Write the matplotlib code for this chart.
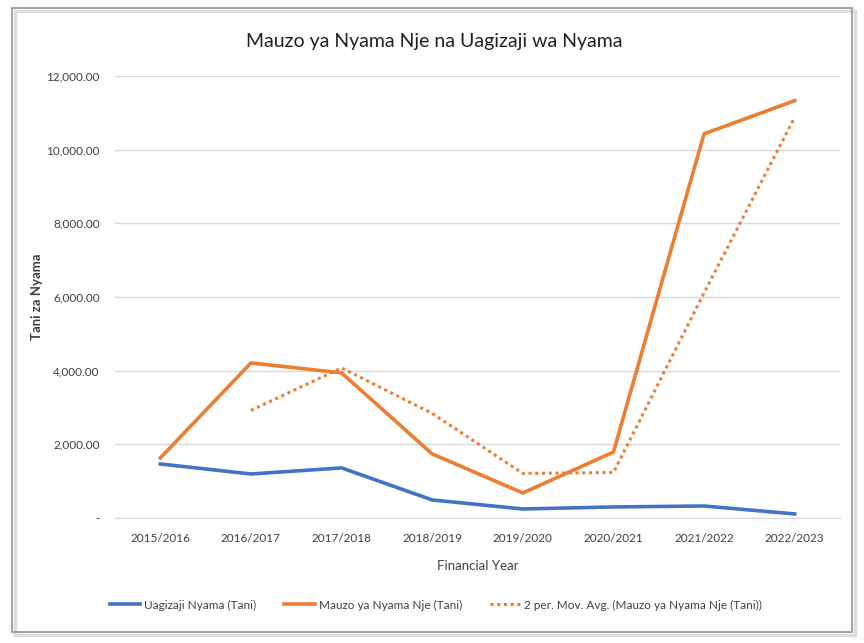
import matplotlib
matplotlib.use("Agg")
import matplotlib.pyplot as plt
from matplotlib.ticker import FuncFormatter, MultipleLocator
from matplotlib.patches import Rectangle
import pandas as pd

years = ["2015/2016", "2016/2017", "2017/2018", "2018/2019",
         "2019/2020", "2020/2021", "2021/2022", "2022/2023"]
uagizaji = [1467, 1195, 1360, 490, 245, 300, 326, 110]
mauzo = [1630, 4210, 3940, 1740, 680, 1790, 10430, 11330]

mov_avg = pd.Series(mauzo).rolling(2).mean()

plt.rcParams['font.family'] = ['Lato', 'DejaVu Sans']

fig = plt.figure(figsize=(8.64, 6.43), dpi=100)
W, H = 864, 643
ax = fig.add_axes([115 / W, 1 - 518 / H, (840 - 115) / W, (518 - 76) / H])

x = list(range(len(years)))
blue = "#4472C4"
orange = "#ED7D31"
ax.plot(x, uagizaji, color=blue, lw=2.6, label="Uagizaji Nyama (Tani)", solid_joinstyle='round')
ax.plot(x, mauzo, color=orange, lw=2.6, label="Mauzo ya Nyama Nje (Tani)", solid_joinstyle='round')
ax.plot(x, mov_avg, color=orange, lw=2.2, ls=(0, (1, 1.2)),
        label="2 per. Mov. Avg. (Mauzo ya Nyama Nje (Tani))")

ax.set_xlim(-0.5, len(years) - 0.5)
ax.set_ylim(0, 12000)
ax.yaxis.set_major_locator(MultipleLocator(2000))


def fmt(v, pos):
    if abs(v) < 1e-9:
        return "-"
    return f"{v:,.2f}"


ax.yaxis.set_major_formatter(FuncFormatter(fmt))
ax.set_xticks(x)
ax.set_xticklabels(years)
ax.tick_params(axis='both', length=0, labelsize=8.5, colors="#404040")
ax.tick_params(axis='y', pad=11)
ax.tick_params(axis='x', pad=11)
ax.grid(axis='y', color="#D9D9D9", lw=1)
ax.set_axisbelow(True)
for s in ["top", "right", "left"]:
    ax.spines[s].set_visible(False)
ax.spines["bottom"].set_color("#D9D9D9")

ax.set_xlabel("Financial Year", fontsize=9.5, color="#404040")
ax.xaxis.set_label_coords(0.5, -(560 - 518) / 442)
ax.set_ylabel("Tani za Nyama", fontsize=9.5, color="#404040", fontweight='bold')
ax.yaxis.set_label_coords(-(115 - 43) / 725, 0.5)

fig.text(434 / W, 1 - 42 / H, "Mauzo ya Nyama Nje na Uagizaji wa Nyama",
         ha="center", va="center", fontsize=14, color="#202020")

fig.legend(loc="center", bbox_to_anchor=(436 / W, 1 - 605 / H), ncol=3,
           frameon=False, fontsize=8.5, handlelength=2.6, columnspacing=2.4,
           handletextpad=0.3, labelcolor="#404040")

# frame with subtle shadow
fig.patches.append(Rectangle((15 / W, 1 - 635 / H), (852 - 12) / W, (632 - 8) / H,
                             transform=fig.transFigure, fill=False,
                             edgecolor="#DDDDDD", lw=2.5))
fig.patches.append(Rectangle((12 / W, 1 - 632 / H), (852 - 12) / W, (632 - 8) / H,
                             transform=fig.transFigure, fill=False,
                             edgecolor="#A6A6A6", lw=1.5))

fig.savefig("out.png", dpi=100, facecolor="white")
